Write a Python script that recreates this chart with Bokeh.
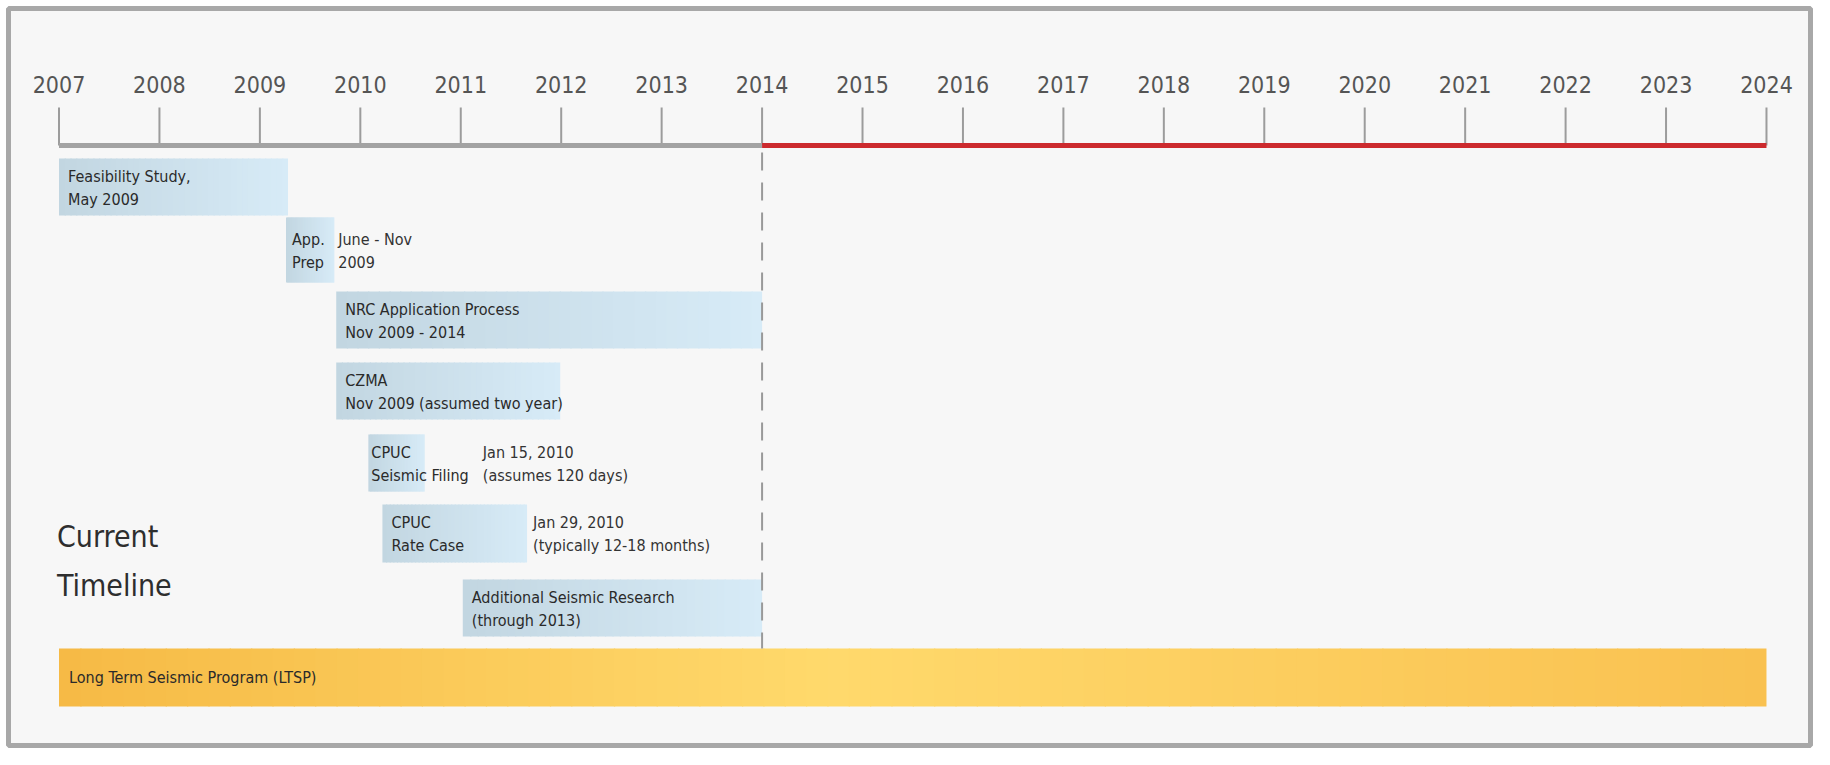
import glob
import subprocess

from bokeh.plotting import figure
from bokeh.models import Range1d
from bokeh.core.properties import value
from bokeh.embed import file_html
from bokeh.resources import INLINE

# ---------------- data ----------------
years = list(range(2007, 2025))
today_year = 2014

task_start = [2007.0, 2009.26, 2009.76, 2009.76, 2010.08, 2010.22, 2011.02]
task_end = [2009.28, 2009.74, 2014.0, 2011.99, 2010.64, 2011.66, 2014.0]
task_line1 = ["Feasibility Study,", "App.", "NRC Application Process", "CZMA",
              "CPUC", "CPUC", "Additional Seismic Research"]
task_line2 = ["May 2009", "Prep", "Nov 2009 - 2014", "Nov 2009 (assumed two year)",
              "Seismic Filing", "Rate Case", "(through 2013)"]
note_x = [None, 2009.78, None, None, 2011.22, 2011.72, None]
note_line1 = ["", "June - Nov", "", "", "Jan 15, 2010", "Jan 29, 2010", ""]
note_line2 = ["", "2009", "", "", "(assumes 120 days)", "(typically 12-18 months)", ""]

program_label = "Long Term Seismic Program (LTSP)"
program_start = 2007
program_end = 2024

side_title = ["Current", "Timeline"]


# ---------------- font choice ----------------
def installed_families():
    try:
        out = subprocess.run(["fc-list", ":", "family"], capture_output=True,
                             text=True, timeout=10).stdout
    except Exception:
        out = ""
    files = " ".join(glob.glob("/usr/share/fonts/**/*", recursive=True))
    return out + " " + files


fams = installed_families()
candidates = [
    # family, fc name / file token, tick size, body size, title size
    ("Liberation Sans Narrow", ["Liberation Sans Narrow", "LiberationSansNarrow"], 26, 18, 35),
    ("Noto Sans Condensed", ["Noto Sans Condensed", "NotoSans-Condensed."], 24, 17, 32),
    ("DejaVu Sans Condensed", ["DejaVu Sans Condensed", "DejaVuSansCondensed."], 23, 16, 30),
    ("Liberation Sans", ["Liberation Sans"], 23, 15.5, 31),
]
font_name, tick_fs, body_fs, title_fs = "Liberation Sans", 23, 15.5, 31
for name, tokens, a, b, c in candidates:
    if any(t in fams for t in tokens):
        font_name, tick_fs, body_fs, title_fs = name, a, b, c
        break
FONT = value(font_name)

# ---------------- layout ----------------
W, H = 1814, 749
BL, BR, BT, BB = 8, 4, 8, 4
PX_PER_YEAR = 100.44
px_2007 = 58.5
x0 = 2007 - (px_2007 - BL) / PX_PER_YEAR
x1 = x0 + (W - BL - BR) / PX_PER_YEAR

row_top = [158, 217, 291, 362, 434, 504, 579]
row_bot = [215, 282, 348, 419, 491, 562, 636]
prog_top, prog_bot = 648, 706
pad = [0.09, 0.06, 0.09, 0.09, 0.03, 0.09, 0.09]

p = figure(width=W, height=H, x_range=Range1d(x0, x1), y_range=Range1d(H - BB, BT),
           output_backend="svg", toolbar_location=None,
           x_axis_location=None, y_axis_location=None,
           min_border_left=BL, min_border_right=BR, min_border_top=BT, min_border_bottom=BB,
           background_fill_color="#f7f7f7", border_fill_color="#ffffff",
           outline_line_color="#a8a8a8", outline_line_width=5)
p.xgrid.visible = False
p.ygrid.visible = False


def hexrgb(h):
    h = h.lstrip("#")
    return tuple(int(h[i:i + 2], 16) for i in (0, 2, 4))


def interp(stops, t):
    for (t0, c0), (t1, c1) in zip(stops[:-1], stops[1:]):
        if t0 <= t <= t1:
            f = (t - t0) / (t1 - t0) if t1 > t0 else 0
            a, b = hexrgb(c0), hexrgb(c1)
            return "#%02x%02x%02x" % tuple(round(a[i] + (b[i] - a[i]) * f) for i in range(3))
    return stops[-1][1]


def gradient_bar(start, end, top, bottom, stops, n=40):
    lefts, rights, cols = [], [], []
    for k in range(n):
        lefts.append(start + (end - start) * k / n)
        r = start + (end - start) * (k + 1) / n
        rights.append(r if k == n - 1 else r + 0.012)
        cols.append(interp(stops, (k + 0.5) / n))
    p.quad(left=lefts, right=rights, top=[top] * n, bottom=[bottom] * n,
           fill_color=cols, line_color=None)


# axis: tick marks, labels, baseline
tick_top, base_y = 107, 145
p.segment(x0=years, x1=years, y0=[tick_top] * len(years), y1=[base_y] * len(years),
          line_color="#9c9c9c", line_width=2)
p.text(x=years, y=[84] * len(years), text=[str(y) for y in years],
       text_font=FONT, text_font_size=f"{tick_fs}px", text_color="#555555",
       text_align="center", text_baseline="middle")
p.segment(x0=[years[0]], x1=[today_year], y0=[base_y], y1=[base_y],
          line_color="#a3a3a3", line_width=5)
p.segment(x0=[today_year], x1=[years[-1]], y0=[base_y], y1=[base_y],
          line_color="#cc2a2e", line_width=5)

# task boxes
blue_stops = [(0.0, "#c2d6e1"), (1.0, "#d7ebf7")]
for i in range(len(task_start)):
    gradient_bar(task_start[i], task_end[i], row_top[i], row_bot[i], blue_stops)

# program bar
orange_stops = [(0.0, "#f6ba45"), (0.45, "#ffd96c"), (1.0, "#f9c150")]
gradient_bar(program_start, program_end, prog_top, prog_bot, orange_stops, n=80)

# dashed "today" line
p.segment(x0=[today_year], x1=[today_year], y0=[152], y1=[prog_top],
          line_color="#999999", line_width=2, line_dash="18 12")

# box texts
for i in range(len(task_start)):
    cy = (row_top[i] + row_bot[i]) / 2
    p.text(x=[task_start[i] + pad[i]] * 2, y=[cy - 11, cy + 12],
           text=[task_line1[i], task_line2[i]], text_font=FONT,
           text_font_size=f"{body_fs}px", text_color="#2a2a2a", text_baseline="middle")
    if note_x[i] is not None:
        p.text(x=[note_x[i]] * 2, y=[cy - 11, cy + 12],
               text=[note_line1[i], note_line2[i]], text_font=FONT,
               text_font_size=f"{body_fs}px", text_color="#333333", text_baseline="middle")

p.text(x=[program_start + 0.1], y=[(prog_top + prog_bot) / 2], text=[program_label],
       text_font=FONT, text_font_size=f"{body_fs}px", text_color="#2a2a2a",
       text_baseline="middle")

# side title
p.text(x=[program_start - 0.02] * 2, y=[536, 585], text=side_title, text_font=FONT,
       text_font_size=f"{title_fs}px", text_color="#2e2e2e", text_baseline="middle")

open("out.html", "w").write(file_html(p, INLINE))
